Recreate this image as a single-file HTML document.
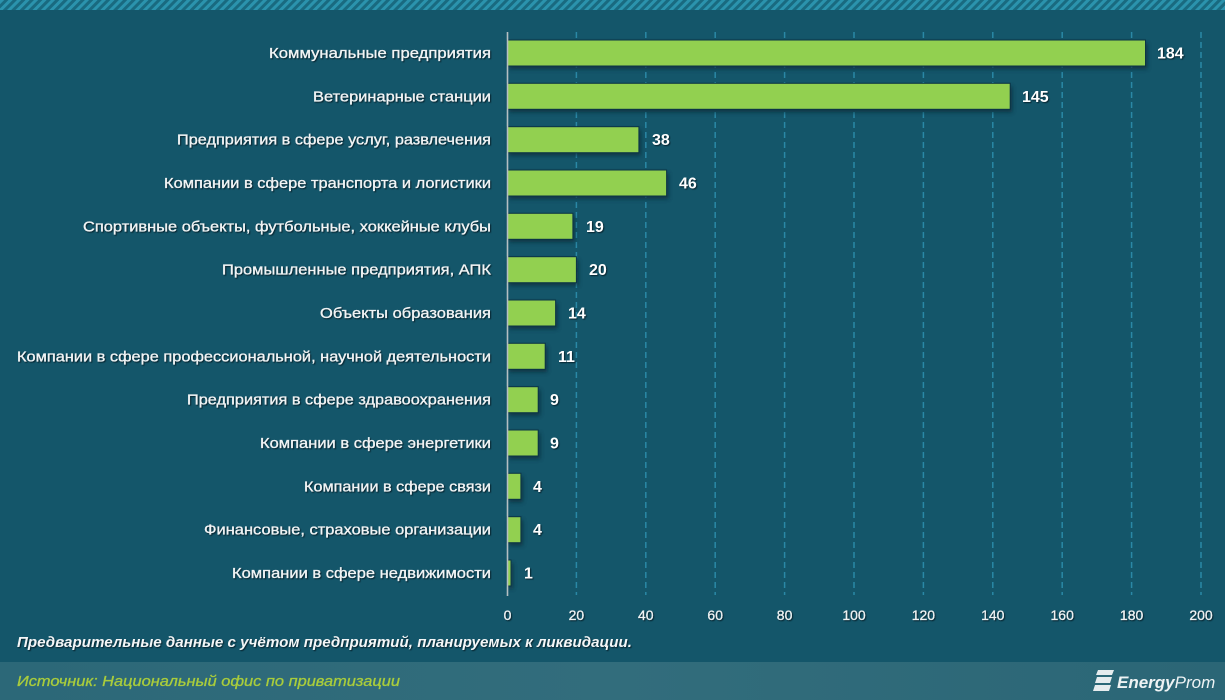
<!DOCTYPE html>
<html><head><meta charset="utf-8"><style>
html,body{margin:0;padding:0;background:#14566a;}
svg{display:block;}
.lbl{font-family:"Liberation Sans","DejaVu Sans",sans-serif;font-size:15px;fill:#f1f4f5;stroke:#f1f4f5;stroke-width:0.35px;}
.val{font-family:"Liberation Sans","DejaVu Sans",sans-serif;font-size:16px;font-weight:bold;fill:#ffffff;}
.tick{font-family:"Liberation Sans","DejaVu Sans",sans-serif;font-size:14px;fill:#eef2f3;stroke:#eef2f3;stroke-width:0.3px;}
.sh{filter:drop-shadow(1px 1px 0.6px rgba(5,30,40,0.9));}
</style></head><body>
<svg width="1225" height="700" viewBox="0 0 1225 700" xmlns="http://www.w3.org/2000/svg">
<defs>
<pattern id="hatch" width="6" height="6" patternUnits="userSpaceOnUse" patternTransform="rotate(45)">
<rect width="6" height="6" fill="#196a80"/>
<rect width="3" height="6" fill="#2b93ad"/>
</pattern>
<linearGradient id="foot" x1="0" y1="0" x2="1" y2="0">
<stop offset="0" stop-color="#2c6878"/>
<stop offset="0.5" stop-color="#326d7c"/>
<stop offset="1" stop-color="#2b6676"/>
</linearGradient>
<filter id="bsh" x="-5%" y="-30%" width="110%" height="180%">
<feGaussianBlur stdDeviation="2"/>
</filter>
</defs>
<rect x="0" y="0" width="1225" height="700" fill="#14566a"/>
<rect x="0" y="0" width="1225" height="10" fill="url(#hatch)"/>
<!-- gridlines -->
<g stroke="#2a88a6" stroke-width="1.5" stroke-dasharray="6,4">
<line x1="576.4" y1="32" x2="576.4" y2="595"/>
<line x1="645.8" y1="32" x2="645.8" y2="595"/>
<line x1="715.2" y1="32" x2="715.2" y2="595"/>
<line x1="784.6" y1="32" x2="784.6" y2="595"/>
<line x1="854" y1="32" x2="854" y2="595"/>
<line x1="923.4" y1="32" x2="923.4" y2="595"/>
<line x1="992.8" y1="32" x2="992.8" y2="595"/>
<line x1="1062.2" y1="32" x2="1062.2" y2="595"/>
<line x1="1131.6" y1="32" x2="1131.6" y2="595"/>
<line x1="1201" y1="32" x2="1201" y2="595"/>
</g>
<!-- bar shadows -->
<g fill="#082c38" opacity="0.75" filter="url(#bsh)">
<rect x="509" y="43" width="638.5" height="26"/>
<rect x="509" y="86.3" width="503.2" height="26"/>
<rect x="509" y="129.7" width="131.9" height="26"/>
<rect x="509" y="173" width="159.6" height="26"/>
<rect x="509" y="216.3" width="65.9" height="26"/>
<rect x="509" y="259.7" width="69.4" height="26"/>
<rect x="509" y="303" width="48.6" height="26"/>
<rect x="509" y="346.3" width="38.2" height="26"/>
<rect x="509" y="389.7" width="31.2" height="26"/>
<rect x="509" y="433" width="31.2" height="26"/>
<rect x="509" y="476.3" width="13.9" height="26"/>
<rect x="509" y="519.7" width="13.9" height="26"/>
<rect x="509" y="563" width="4" height="26"/>
</g>
<!-- bars -->
<g fill="#92d050" stroke="#0b3445" stroke-width="1">
<rect x="507" y="40" width="638.5" height="26"/>
<rect x="507" y="83.3" width="503.2" height="26"/>
<rect x="507" y="126.7" width="131.9" height="26"/>
<rect x="507" y="170" width="159.6" height="26"/>
<rect x="507" y="213.3" width="65.9" height="26"/>
<rect x="507" y="256.7" width="69.4" height="26"/>
<rect x="507" y="300" width="48.6" height="26"/>
<rect x="507" y="343.3" width="38.2" height="26"/>
<rect x="507" y="386.7" width="31.2" height="26"/>
<rect x="507" y="430" width="31.2" height="26"/>
<rect x="507" y="473.3" width="13.9" height="26"/>
<rect x="507" y="516.7" width="13.9" height="26"/>
<rect x="507" y="560" width="4" height="26"/>
</g>
<!-- axis line -->
<line x1="507.5" y1="32" x2="507.5" y2="596" stroke="#b5bfc3" stroke-width="1.6"/>
<!-- category labels -->
<g class="lbl sh" text-anchor="end">
<text x="491" y="58" textLength="222" lengthAdjust="spacingAndGlyphs">Коммунальные предприятия</text>
<text x="491" y="101.3" textLength="178" lengthAdjust="spacingAndGlyphs">Ветеринарные станции</text>
<text x="491" y="144.7" textLength="314" lengthAdjust="spacingAndGlyphs">Предприятия в сфере услуг, развлечения</text>
<text x="491" y="188" textLength="327" lengthAdjust="spacingAndGlyphs">Компании в сфере транспорта и логистики</text>
<text x="491" y="231.3" textLength="408" lengthAdjust="spacingAndGlyphs">Спортивные объекты, футбольные, хоккейные клубы</text>
<text x="491" y="274.7" textLength="269" lengthAdjust="spacingAndGlyphs">Промышленные предприятия, АПК</text>
<text x="491" y="318" textLength="171" lengthAdjust="spacingAndGlyphs">Объекты образования</text>
<text x="491" y="361.3" textLength="474" lengthAdjust="spacingAndGlyphs">Компании в сфере профессиональной, научной деятельности</text>
<text x="491" y="404.7" textLength="304" lengthAdjust="spacingAndGlyphs">Предприятия в сфере здравоохранения</text>
<text x="491" y="448" textLength="231" lengthAdjust="spacingAndGlyphs">Компании в сфере энергетики</text>
<text x="491" y="491.3" textLength="187" lengthAdjust="spacingAndGlyphs">Компании в сфере связи</text>
<text x="491" y="534.7" textLength="287" lengthAdjust="spacingAndGlyphs">Финансовые, страховые организации</text>
<text x="491" y="578" textLength="259" lengthAdjust="spacingAndGlyphs">Компании в сфере недвижимости</text>
</g>
<!-- value labels -->
<g class="val sh">
<text x="1157" y="58.5">184</text>
<text x="1022" y="101.8">145</text>
<text x="652" y="145.2">38</text>
<text x="679" y="188.5">46</text>
<text x="586" y="231.8">19</text>
<text x="589" y="275.2">20</text>
<text x="568" y="318.5">14</text>
<text x="558" y="361.8">11</text>
<text x="550" y="405.2">9</text>
<text x="550" y="448.5">9</text>
<text x="533" y="491.8">4</text>
<text x="533" y="535.2">4</text>
<text x="524" y="578.5">1</text>
</g>
<!-- tick labels -->
<g class="tick sh" text-anchor="middle">
<text x="507.5" y="620">0</text>
<text x="576.4" y="620">20</text>
<text x="645.8" y="620">40</text>
<text x="715.2" y="620">60</text>
<text x="784.6" y="620">80</text>
<text x="854" y="620">100</text>
<text x="923.4" y="620">120</text>
<text x="992.8" y="620">140</text>
<text x="1062.2" y="620">160</text>
<text x="1131.6" y="620">180</text>
<text x="1201" y="620">200</text>
</g>
<!-- note -->
<text x="17" y="647" class="sh" font-family="Liberation Sans, DejaVu Sans, sans-serif" font-size="15" font-style="italic" font-weight="bold" fill="#f4f6f7" textLength="615" lengthAdjust="spacingAndGlyphs">Предварительные данные с учётом предприятий, планируемых к ликвидации.</text>
<!-- footer -->
<rect x="0" y="662" width="1225" height="38" fill="url(#foot)"/>
<text x="17" y="686" font-family="Liberation Sans, DejaVu Sans, sans-serif" font-size="15" font-style="italic" fill="#a9cc3c" stroke="#a9cc3c" stroke-width="0.3" textLength="383" lengthAdjust="spacingAndGlyphs">Источник: Национальный офис по приватизации</text>
<!-- logo -->
<g fill="#e6ecee">
<polygon points="1098,670 1114,670 1112,675 1096,675"/>
<polygon points="1097,677 1112,677 1110,683 1095,683"/>
<polygon points="1095,685 1111,685 1109,691 1093,691"/>
</g>
<text x="1117" y="688" font-family="Liberation Sans, DejaVu Sans, sans-serif" font-size="17" font-style="italic" fill="#eef3f4"><tspan font-weight="bold">Energy</tspan><tspan>Prom</tspan></text>
</svg>
</body></html>
